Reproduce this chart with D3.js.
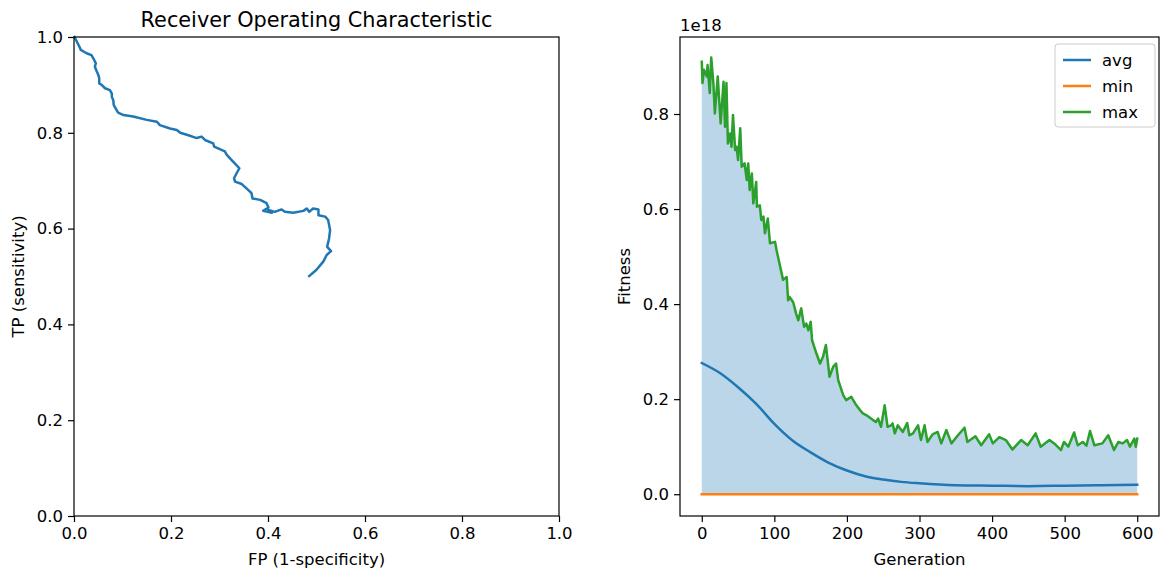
<!DOCTYPE html>
<html>
<head>
<meta charset="utf-8">
<script src="https://cdn.jsdelivr.net/npm/d3@7"></script>
<style>
  body { margin: 0; background: #fff; }
  text { font-family: "DejaVu Sans", sans-serif; fill: #000; }
</style>
</head>
<body>
<svg id="chart" width="1161" height="572"></svg>
<script>
// ROC curve
const rocFP = [0.001, 0.006, 0.011, 0.014, 0.026, 0.036, 0.040, 0.045, 0.043, 0.047, 0.050, 0.052, 0.052, 0.057, 0.064,
  0.074, 0.078, 0.078, 0.081, 0.082, 0.087, 0.091, 0.102, 0.122, 0.150, 0.171, 0.177, 0.198, 0.212, 0.219, 0.236, 0.253,
  0.263, 0.270, 0.287, 0.289, 0.311, 0.315, 0.328, 0.341, 0.335, 0.330, 0.332, 0.346, 0.359, 0.366, 0.368, 0.384, 0.397,
  0.401, 0.390, 0.408, 0.401, 0.414, 0.428, 0.435, 0.452, 0.473, 0.480, 0.485, 0.493, 0.504, 0.504, 0.518, 0.524, 0.528,
  0.526, 0.522, 0.530, 0.521, 0.514, 0.500, 0.485];
const rocTP = [1.000, 0.990, 0.980, 0.973, 0.966, 0.962, 0.955, 0.945, 0.938, 0.928, 0.921, 0.914, 0.903, 0.900, 0.893,
  0.889, 0.882, 0.875, 0.868, 0.858, 0.849, 0.842, 0.837, 0.834, 0.827, 0.823, 0.816, 0.809, 0.806, 0.800, 0.795, 0.789,
  0.792, 0.785, 0.778, 0.771, 0.761, 0.754, 0.740, 0.726, 0.715, 0.705, 0.698, 0.693, 0.681, 0.674, 0.663, 0.660, 0.653,
  0.644, 0.637, 0.633, 0.639, 0.635, 0.640, 0.635, 0.633, 0.637, 0.642, 0.635, 0.642, 0.640, 0.628, 0.625, 0.618, 0.597,
  0.580, 0.562, 0.553, 0.545, 0.531, 0.514, 0.501];
const rocTicks = [0, 0.2, 0.4, 0.6, 0.8, 1.0];

// fitness per generation, values in units of 1e18
const maxGen = [0, 1, 3, 7, 8, 11, 13, 16, 18, 22, 24, 26, 30, 32, 34, 36, 39, 41, 43, 46, 48, 50, 53, 55, 59, 62, 64, 66,
  69, 71, 75, 76, 80, 82, 85, 87, 91, 94, 101, 103, 107, 112, 117, 119, 121, 126, 130, 133, 137, 141, 144, 147, 150, 152,
  158, 163, 167, 171, 174, 176, 181, 185, 188, 195, 199, 206, 213, 218, 222, 227, 236, 240, 243, 247, 252, 256, 261, 263,
  266, 270, 277, 283, 286, 291, 298, 302, 307, 311, 318, 325, 330, 337, 344, 353, 362, 366, 377, 385, 396, 401, 410, 419,
  428, 440, 449, 460, 467, 479, 487, 495, 499, 505, 513, 518, 525, 530, 535, 541, 552, 560, 568, 574, 580, 586, 590, 596,
  598, 600];
const maxVal = [0.910, 0.865, 0.893, 0.879, 0.903, 0.844, 0.919, 0.865, 0.801, 0.879, 0.829, 0.780, 0.868, 0.773, 0.865,
  0.738, 0.759, 0.731, 0.798, 0.724, 0.731, 0.703, 0.770, 0.689, 0.696, 0.661, 0.696, 0.640, 0.675, 0.612, 0.657, 0.605,
  0.608, 0.577, 0.584, 0.549, 0.580, 0.528, 0.531, 0.514, 0.486, 0.451, 0.457, 0.408, 0.415, 0.404, 0.380, 0.366, 0.391,
  0.352, 0.359, 0.345, 0.363, 0.324, 0.296, 0.275, 0.289, 0.314, 0.275, 0.247, 0.268, 0.275, 0.240, 0.208, 0.198, 0.205,
  0.187, 0.177, 0.170, 0.166, 0.156, 0.152, 0.159, 0.142, 0.187, 0.142, 0.145, 0.149, 0.128, 0.145, 0.131, 0.150, 0.124,
  0.128, 0.145, 0.114, 0.145, 0.110, 0.126, 0.131, 0.107, 0.135, 0.107, 0.124, 0.140, 0.110, 0.122, 0.103, 0.126, 0.107,
  0.120, 0.114, 0.094, 0.114, 0.103, 0.128, 0.100, 0.114, 0.105, 0.093, 0.110, 0.100, 0.130, 0.103, 0.110, 0.102, 0.133,
  0.103, 0.107, 0.124, 0.093, 0.110, 0.107, 0.114, 0.100, 0.117, 0.100, 0.117];
const avgGen = [0, 25, 50, 75, 100, 125, 150, 175, 200, 225, 250, 275, 300, 350, 400, 450, 500, 550, 600];
const avgVal = [0.276, 0.255, 0.225, 0.190, 0.148, 0.113, 0.088, 0.066, 0.050, 0.038, 0.031, 0.026, 0.023, 0.019, 0.018,
  0.017, 0.018, 0.019, 0.020];
const minGen = [0, 600];
const minVal = [0, 0];
const genTicks = [0, 100, 200, 300, 400, 500, 600];
const fitTicks = [0, 0.2, 0.4, 0.6, 0.8];
const seriesNames = ['avg', 'min', 'max'];
const seriesColors = ['#1f77b4', '#ff7f0e', '#2ca02c'];

const svg = d3.select('#chart');
const fmt = d3.format('.1f');
const FS = '16.5px';

function styleAxis(g) {
  g.selectAll('.domain').remove();
  g.selectAll('.tick line').attr('stroke', '#000').attr('stroke-width', 1.2);
  g.selectAll('.tick text').style('font-size', FS).style('font-family', '"DejaVu Sans", sans-serif');
}

// ---- left: ROC ----
const L = {left: 74, right: 559, top: 37, bottom: 516};
const xRoc = d3.scaleLinear().domain([0, 1]).range([L.left, L.right]);
const yRoc = d3.scaleLinear().domain([0, 1]).range([L.bottom, L.top]);

svg.append('g').attr('transform', 'translate(0,' + L.bottom + ')')
  .call(d3.axisBottom(xRoc).tickValues(rocTicks).tickFormat(fmt).tickSize(6).tickPadding(5)).call(styleAxis);
svg.append('g').attr('transform', 'translate(' + L.left + ',0)')
  .call(d3.axisLeft(yRoc).tickValues(rocTicks).tickFormat(fmt).tickSize(6).tickPadding(5)).call(styleAxis);

const rocPts = rocFP.map(function(d, i) { return [d, rocTP[i]]; });
svg.append('path').datum(rocPts)
  .attr('fill', 'none').attr('stroke', seriesColors[0]).attr('stroke-width', 2.5)
  .attr('stroke-linejoin', 'round').attr('stroke-linecap', 'square')
  .attr('d', d3.line().x(function(d) { return xRoc(d[0]); }).y(function(d) { return yRoc(d[1]); }));

svg.append('rect').attr('x', L.left).attr('y', L.top).attr('width', L.right - L.left).attr('height', L.bottom - L.top)
  .attr('fill', 'none').attr('stroke', '#000').attr('stroke-width', 1.2);

svg.append('text').attr('x', (L.left + L.right) / 2).attr('y', 27).attr('text-anchor', 'middle')
  .style('font-size', '20.8px').text('Receiver Operating Characteristic');
svg.append('text').attr('x', (L.left + L.right) / 2).attr('y', 565).attr('text-anchor', 'middle')
  .style('font-size', FS).text('FP (1-specificity)');
svg.append('text').attr('transform', 'translate(24,' + ((L.top + L.bottom) / 2) + ') rotate(-90)')
  .attr('text-anchor', 'middle').style('font-size', FS).text('TP (sensitivity)');

// ---- right: fitness ----
const R = {left: 680, right: 1159, top: 37, bottom: 516};
const xGen = d3.scaleLinear().domain([-30, 630]).range([R.left, R.right]);
const yFit = d3.scaleLinear().domain([-0.0458, 0.962]).range([R.bottom, R.top]);

svg.append('g').attr('transform', 'translate(0,' + R.bottom + ')')
  .call(d3.axisBottom(xGen).tickValues(genTicks).tickSize(6).tickPadding(5)).call(styleAxis);
svg.append('g').attr('transform', 'translate(' + R.left + ',0)')
  .call(d3.axisLeft(yFit).tickValues(fitTicks).tickFormat(fmt).tickSize(6).tickPadding(5)).call(styleAxis);

const maxPts = maxGen.map(function(g, i) { return [g, maxVal[i]]; });
const avgPts = avgGen.map(function(g, i) { return [g, avgVal[i]]; });
const minPts = minGen.map(function(g, i) { return [g, minVal[i]]; });
const minAt = d3.scaleLinear().domain(minGen).range(minVal);

svg.append('path').datum(maxPts)
  .attr('fill', seriesColors[0]).attr('fill-opacity', 0.3)
  .attr('d', d3.area().x(function(d) { return xGen(d[0]); })
    .y0(function(d) { return yFit(minAt(d[0])); }).y1(function(d) { return yFit(d[1]); }));

const line = d3.line().x(function(d) { return xGen(d[0]); }).y(function(d) { return yFit(d[1]); });
[avgPts, minPts, maxPts].forEach(function(pts, i) {
  svg.append('path').datum(pts)
    .attr('fill', 'none').attr('stroke', seriesColors[i]).attr('stroke-width', 2.5)
    .attr('stroke-linejoin', 'round').attr('stroke-linecap', 'square')
    .attr('d', i === 0 ? line.curve(d3.curveMonotoneX)(pts) : line.curve(d3.curveLinear)(pts));
});

svg.append('rect').attr('x', R.left).attr('y', R.top).attr('width', R.right - R.left).attr('height', R.bottom - R.top)
  .attr('fill', 'none').attr('stroke', '#000').attr('stroke-width', 1.2);

svg.append('text').attr('x', R.left).attr('y', 31).style('font-size', FS).text('1e18');
svg.append('text').attr('x', (R.left + R.right) / 2).attr('y', 565).attr('text-anchor', 'middle')
  .style('font-size', FS).text('Generation');
svg.append('text').attr('transform', 'translate(630,' + ((R.top + R.bottom) / 2) + ') rotate(-90)')
  .attr('text-anchor', 'middle').style('font-size', FS).text('Fitness');

// legend
const lg = svg.append('g').attr('transform', 'translate(1055,44)');
lg.append('rect').attr('width', 100).attr('height', 83).attr('rx', 3)
  .attr('fill', '#fff').attr('fill-opacity', 0.8).attr('stroke', '#ccc');
seriesNames.forEach(function(name, i) {
  const yy = 16 + i * 26;
  lg.append('line').attr('x1', 8).attr('x2', 36).attr('y1', yy).attr('y2', yy)
    .attr('stroke', seriesColors[i]).attr('stroke-width', 2.5);
  lg.append('text').attr('x', 47).attr('y', yy + 6).style('font-size', FS).text(name);
});
</script>
</body>
</html>
